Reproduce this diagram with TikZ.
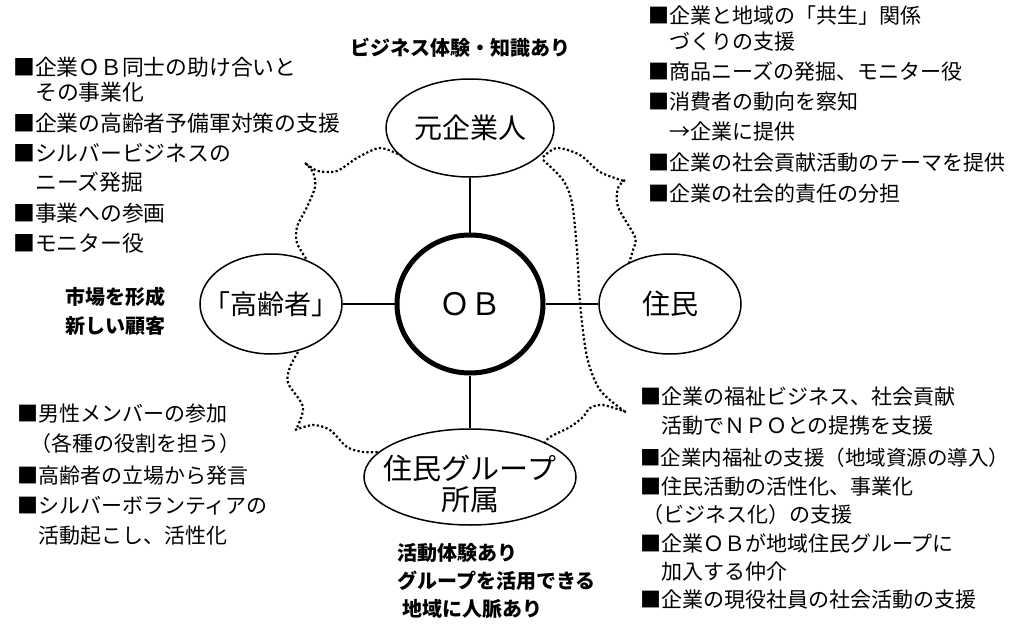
\documentclass[tikz,border=0pt]{standalone}
\usepackage{fontspec}
\newfontfamily\jp{Noto Sans CJK JP}
\usetikzlibrary{shapes.geometric}
\begin{document}
\begin{tikzpicture}[x=1pt,y=-1pt,
  bub/.style={draw, ellipse, line width=1.5pt, inner sep=0pt, font=\jp\fontsize{28}{30}\selectfont},
  txt/.style={anchor=west, inner sep=0pt, font=\jp\fontsize{21}{21}\selectfont, text height=0.88em, text depth=0.12em},
  txtl/.style={txt, font=\jp\fontsize{21.8}{21.8}\selectfont},
  bld/.style={inner sep=0pt, font=\jp\bfseries\fontsize{20}{20}\selectfont, text height=0.88em, text depth=0.12em},
  dots/.style={line width=2.2pt, dash pattern=on 2.2pt off 2.3pt},
  link/.style={line width=1.5pt}]
\useasboundingbox (0,0) rectangle (1013,629);

% ellipses
\node[bub, line width=5pt, minimum width=146pt, minimum height=138pt, font=\jp\fontsize{31}{31}\selectfont] (ob) at (470,304) {ＯＢ};
\node[bub, minimum width=168pt, minimum height=98pt] (top) at (470,128) {\makebox[0pt]{元企業人}};
\node[bub, minimum width=142pt, minimum height=100pt, font=\jp\fontsize{27}{27}\selectfont] (old) at (271,304) {\makebox[0pt]{「高齢者」}};
\node[bub, minimum width=142pt, minimum height=100pt] (res) at (670,304) {\makebox[0pt]{住民}};
\node[bub, minimum width=212pt, minimum height=96pt] (grp) at (470,477) {};
\node[inner sep=0pt, align=center, font=\jp\fontsize{29}{31}\selectfont] (grpt) at (470,484) {住民グループ\\所属};

% links
\draw[link] (ob) -- (top);
\draw[link] (ob) -- (old);
\draw[link] (ob) -- (res);
\draw[link] (ob) -- (grp);

% dotted outlines
\draw[dots] plot[smooth] coordinates {(402,156) (380,148) (357,158) (337,171) (318,171) (305,163)};
\draw[dots] plot[smooth] coordinates {(305,163) (313,172) (315,187) (307,207) (297,227) (297,243) (307,260)};
\draw[dots] plot[smooth] coordinates {(543,157) (557,148) (580,155) (600,172) (624,181)};
\draw[dots] plot[smooth] coordinates {(625,180) (618,188) (618,207) (635,237) (633,250) (629,263)};
\draw[dots] plot[smooth] coordinates {(543,160) (563,180) (572,203) (577,250) (580,303) (587,357) (600,390) (624,411)};
\draw[dots] plot[smooth] coordinates {(626,412) (603,405) (590,408) (583,417) (570,427) (550,437) (544,444)};
\draw[dots] plot[smooth] coordinates {(298,352) (290,367) (288,383) (303,407) (296,430)};
\draw[dots] plot[smooth] coordinates {(295,430) (313,425) (330,430) (347,447) (363,452) (378,452)};

% bold labels
\node[bld] (lbtop) at (460,52) {ビジネス体験・知識あり};
\node[bld] (lbl1) at (115,301) {市場を形成};
\node[bld] (lbl2) at (115,330) {新しい顧客};
\node[bld, anchor=west] (lbb1) at (397,557) {活動体験あり};
\node[bld, anchor=west] (lbb2) at (397,585) {グループを活用できる};
\node[bld, anchor=west] (lbb3) at (402,613) {地域に人脈あり};

% top-left list
\node[txtl] (a1) at (13,72) {■企業ＯＢ同士の助け合いと};
\node[txtl] (a2) at (35,97) {その事業化};
\node[txtl] (a3) at (13,128) {■企業の高齢者予備軍対策の支援};
\node[txtl] (a4) at (13,158) {■シルバービジネスの};
\node[txtl] (a5) at (35,187) {ニーズ発掘};
\node[txtl] (a6) at (13,218) {■事業への参画};
\node[txtl] (a7) at (13,248) {■モニター役};

% bottom-left list
\node[txt] (b1) at (17,418) {■男性メンバーの参加};
\node[txt] (b2) at (30,448) {（各種の役割を担う）};
\node[txt] (b3) at (17,480) {■高齢者の立場から発言};
\node[txt] (b4) at (17,510) {■シルバーボランティアの};
\node[txt] (b5) at (38,540) {活動起こし、活性化};

% top-right list
\node[txt] (c1) at (648,20) {■企業と地域の「共生」関係};
\node[txt] (c2) at (669,46) {づくりの支援};
\node[txt] (c3) at (648,76) {■商品ニーズの発掘、モニター役};
\node[txt] (c4) at (648,106) {■消費者の動向を察知};
\node[txt] (c5) at (669,136) {→企業に提供};
\node[txt] (c6) at (648,167) {■企業の社会貢献活動のテーマを提供};
\node[txt] (c7) at (648,198) {■企業の社会的責任の分担};

% bottom-right list
\node[txt] (d1) at (640,401) {■企業の福祉ビジネス、社会貢献};
\node[txt] (d2) at (661,430) {活動でＮＰＯとの提携を支援};
\node[txt, font=\jp\fontsize{20.5}{20.5}\selectfont] (d3) at (640,462) {■企業内福祉の支援（地域資源の導入）};
\node[txt] (d4) at (640,491) {■住民活動の活性化、事業化};
\node[txt] (d5) at (642,519) {（ビジネス化）の支援};
\node[txt] (d6) at (640,548) {■企業ＯＢが地域住民グループに};
\node[txt] (d7) at (661,576) {加入する仲介};
\node[txt] (d8) at (640,604) {■企業の現役社員の社会活動の支援};
\end{tikzpicture}
\end{document}
